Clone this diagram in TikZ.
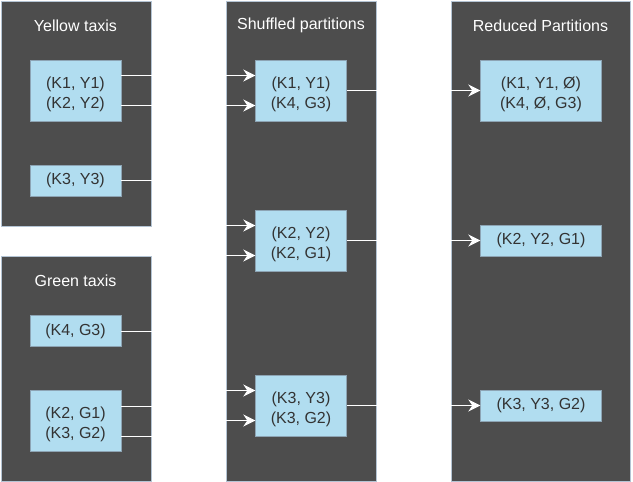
\documentclass[tikz,border=0pt]{standalone}
\usepackage{fontspec}
\setmainfont{Liberation Sans}
\usepackage{tikz}
\definecolor{panelgray}{HTML}{4D4D4D}
\definecolor{panelline}{HTML}{B4C4D4}
\definecolor{boxfill}{HTML}{B1DDF0}
\definecolor{boxline}{HTML}{8DA4B4}
\definecolor{boxtext}{HTML}{333333}
\tikzstyle{panel}=[draw=panelline, fill=panelgray, anchor=north west, inner sep=0pt]
\tikzstyle{title}=[text=white, font=\fontsize{16}{19}\selectfont]
\tikzstyle{block}=[draw=boxline, fill=boxfill, text=boxtext, font=\fontsize{16}{20}\selectfont, align=center, minimum width=91pt, minimum height=61pt, inner sep=0pt]
\tikzstyle{pair}=[block, text height=39pt]
\tikzstyle{arrow}=[white,line width=1pt,-{Stealth[length=12pt,width=12pt,inset=4pt]}]
\usetikzlibrary{arrows.meta,positioning,calc}

\begin{document}
\begin{tikzpicture}[x=1pt,y=-1pt]
\useasboundingbox (0,0) rectangle (633,482);
% panels
\node (yp) [panel, minimum width=150pt, minimum height=225pt] at (0.5,0.5) {};
\node (gp) [panel, minimum width=150pt, minimum height=225pt] at (0.5,256) {};
\node (sp) [panel, minimum width=150pt, minimum height=480pt] at (226,0.5) {};
\node (rp) [panel, minimum width=179pt, minimum height=480pt] at (451,0.5) {};
\node (yt) [title] at (75.5,25.5) {Yellow taxis};
\node (gt) [title] at (75.5,280.5) {Green taxis};
\node (st) [title] at (301,25.5) {Shuffled partitions};
\node (rt) [title] at (540.5,25.5) {Reduced Partitions};
% partitions
\node (y1) [pair] at (75.5,90.5) {(K1, Y1)\\(K2, Y2)};
\node (y3) [block, minimum height=31pt] at (75.5,180.5) {(K3, Y3)};
\node (g3) [block, minimum height=31pt] at (75.5,331) {(K4, G3)};
\node (g12) [pair] at (75.5,421) {(K2, G1)\\(K3, G2)};
\node (s1) [pair] at (301,90.5) {(K1, Y1)\\(K4, G3)};
\node (s2) [pair] at (301,240.5) {(K2, Y2)\\(K2, G1)};
\node (s3) [pair] at (301,405.5) {(K3, Y3)\\(K3, G2)};
\node (r1) [pair, minimum width=121pt] at (541,90.5) {(K1, Y1, Ø)\\(K4, Ø, G3)};
\node (r2) [block, minimum width=121pt, minimum height=31pt] at (541,240.5) {(K2, Y2, G1)};
\node (r3) [block, minimum width=121pt, minimum height=31pt] at (541,405.5) {(K3, Y3, G2)};
% ports
\coordinate (y1a) at ([yshift=15pt]y1.east);
\coordinate (y1b) at ([yshift=-15pt]y1.east);
\coordinate (g12a) at ([yshift=15pt]g12.east);
\coordinate (g12b) at ([yshift=-15pt]g12.east);
\coordinate (s1a) at ([yshift=15pt]s1.west);
\coordinate (s1b) at ([yshift=-15pt]s1.west);
\coordinate (s2a) at ([yshift=15pt]s2.west);
\coordinate (s2b) at ([yshift=-15pt]s2.west);
\coordinate (s3a) at ([yshift=15pt]s3.west);
\coordinate (s3b) at ([yshift=-15pt]s3.west);
\coordinate (gap) at (188.5,0);
\draw[arrow] (y1a) -- (s1a);
\draw[arrow] (y1b) -- (y1b -| gap) |- (s2a);
\draw[arrow] (y3.east) -- (y3.east -| gap) |- (s3a);
\draw[arrow] (g3.east) -- (g3.east -| gap) |- (s1b);
\draw[arrow] (g12a) -- (g12a -| gap) |- (s2b);
\draw[arrow] (g12b) -- (g12b -| gap) |- (s3b);
\draw[arrow] (s1) -- (r1);
\draw[arrow] (s2) -- (r2);
\draw[arrow] (s3) -- (r3);
\end{tikzpicture}
\end{document}
